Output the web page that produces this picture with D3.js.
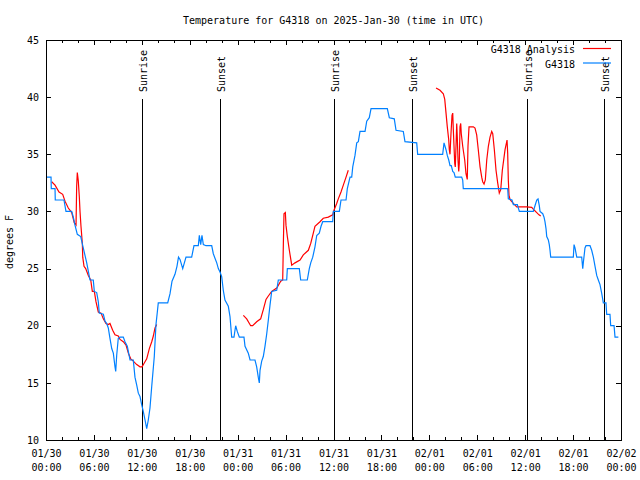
<!DOCTYPE html>
<html><head><meta charset="utf-8">
<script src="https://cdn.jsdelivr.net/npm/d3@7"></script>
<style>
body{margin:0;background:#fff}
svg{display:block}
text{font-family:"DejaVu Sans Mono",monospace;font-size:10px;fill:#000}
</style>
</head><body><svg id="c" width="640" height="480"></svg>
<script>
const chartTitle = "Temperature for G4318 on 2025-Jan-30 (time in UTC)";
const yLabel = "degrees F";
const seriesNames = ["G4318 Analysis", "G4318"];
const seriesColors = ["#ff0000", "#0080ff"];
const startUTC = Date.UTC(2025, 0, 30, 0, 0);
const endUTC = Date.UTC(2025, 1, 2, 0, 0);

// Observations (hours since 2025-01-30 00:00 UTC, deg F)
const obsHours = [
 0,0.63,0.66,1.13,1.16,2.25,2.50,3.22,3.42,3.63,
 3.92,4.35,4.60,5.10,5.51,5.92,6.05,6.35,6.55,6.67,
 7.18,7.39,7.60,7.80,8.01,8.23,8.43,8.64,8.73,8.85,
 9.05,9.27,9.68,9.89,10.18,10.52,10.93,11.14,11.36,11.56,
 11.77,11.98,12.18,12.40,12.61,12.81,13.02,13.24,13.56,13.77,
 13.94,14.06,15.24,15.53,15.78,16.15,16.40,16.59,16.78,17.12,
 17.53,18.24,18.53,19.07,19.20,19.37,19.53,19.70,20.04,20.75,
 20.95,21.16,21.38,21.58,21.79,22.00,22.20,22.41,22.83,23.04,
 23.25,23.54,23.75,23.95,24.21,24.79,24.92,25.33,25.55,26.17,
 26.38,26.58,26.71,26.80,27.01,27.21,27.42,27.64,27.84,28.05,
 28.26,28.89,29.09,30.14,30.22,31.72,31.89,32.72,32.97,33.15,
 33.40,33.68,33.90,34.22,34.44,34.65,35.90,35.98,36.73,36.94,
 37.57,37.73,38.07,38.28,38.41,38.69,38.91,39.11,39.32,39.95,
 40.16,40.48,40.70,42.74,42.99,43.61,43.83,44.74,44.95,46.42,
 46.54,49.67,49.84,50.09,50.25,50.43,50.59,50.75,50.93,51.09,
 51.25,52.05,52.18,52.25,57.81,57.89,58.35,58.52,59.02,59.27,
 61.02,61.23,61.45,61.61,61.77,61.86,62.20,62.36,62.48,62.61,
 62.70,62.90,63.02,63.11,63.20,66.03,66.12,66.24,66.46,67.08,
 67.21,67.28,67.49,67.62,68.12,68.33,68.54,68.75,68.96,69.16,
 69.37,69.59,69.79,70.12,70.21,70.62,70.71,71.13,71.25,71.67
];
const obsTemps = [
 33,33,32,32,31,31,30,30,29.5,28.8,
 28,27.8,27,25.5,24,24,23,22.9,22.1,21.1,
 21,20.4,20.2,19.8,18.9,18,17.6,16.4,16,17.4,
 18.9,19,19,18.6,18.2,17,17,15.5,14.8,14.1,
 13.8,13.1,12.5,11.75,11,11.75,12.8,14.7,17.3,20.1,
 21.2,22,22,22.8,23.9,24.5,25.2,26,25.8,25,
 26,26,27,27,27.9,27.1,27.9,27.1,27,27,
 26.3,25.9,25.5,25,24.7,24.3,23.1,22.25,21.7,20.8,
 19,19,20,19.5,19,19,18.2,17.6,17,17,
 16.4,15.5,15,16.1,16.9,17.3,18.2,19.3,20.5,21.8,
 23,23.1,24,24,25,25,24,24,25,25.5,
 26,26.9,27.9,28.1,28.7,29.1,29.1,30,30,31,
 31,32,33,33,33.9,34.9,36,36.1,37,37,
 37.9,38.2,39,39,38.2,38.1,37.1,37,36.1,36,
 35,35,36,35.4,34.9,34.5,34,34,33.5,33.4,
 33,33,32.75,32,32,31.1,31,30.6,30.6,30,
 30,30.5,31,31.1,30.5,30,29.8,29.5,29.1,28.5,
 27.8,27.5,27.1,26.6,26,26,27.1,26.8,26,26,
 25,25.5,26.8,27,27,26.6,26,25.2,24.4,24,
 23.6,22.8,22,22,21,21,20,20,19,19
];

// Analysis (null = gap)
const anaHours = [
 0.71,1.13,1.63,2.09,2.38,2.79,3.22,3.54,3.76,3.84,
 3.92,4.04,4.17,4.26,4.38,4.55,4.60,4.76,4.97,5.30,
 5.60,5.80,6.05,6.26,6.55,6.89,7.18,7.51,7.80,8.01,
 8.35,8.64,9.05,9.27,9.68,10.02,10.31,10.61,10.93,11.36,
 11.77,12.02,12.27,12.61,12.94,13.24,13.44,13.65,13.86,
 null,
 24.71,25.13,25.63,25.88,26.38,26.88,27.21,27.55,27.84,28.26,
 28.89,29.39,29.64,29.72,29.80,29.97,30.05,30.22,30.47,30.77,
 31.18,31.81,32.22,32.85,33.15,33.47,33.68,34.31,34.72,35.35,
 35.90,36.06,36.40,36.60,36.94,37.23,37.57,37.85,
 null,
 48.84,49.34,49.75,49.93,50.09,50.25,50.43,50.50,50.59,50.71,
 50.84,50.93,51.00,51.09,51.18,51.25,51.34,51.43,51.50,51.59,
 51.68,51.75,51.84,51.93,52.00,52.18,52.43,52.59,52.75,52.84,
 52.97,53.51,53.72,53.93,54.13,54.35,54.56,54.68,54.85,55.01,
 55.19,55.39,55.60,55.81,55.94,56.14,56.35,56.56,56.76,56.94,
 57.14,57.48,57.73,57.81,57.89,57.98,58.10,58.32,58.52,58.73,
 58.94,60.19,60.82,61.15,61.45,61.73,61.95
];
const anaTemps = [
 32.6,32.3,31.7,31.5,30.9,30.3,29.9,29,28.8,32.2,
 33.4,32.7,31.3,30,28.7,27.2,26,25.2,25,24.4,
 24,23,23,22.1,21.2,21.1,20.6,20.2,20.1,20.2,
 19.6,19.2,19.1,18.8,18.6,18.3,17.6,17.1,16.9,16.6,
 16.4,16.4,16.7,17.1,18,18.6,19.1,19.8,20.1,
 null,
 20.9,20.6,20,20,20.35,20.6,21.4,22.3,22.6,23,
 23.3,23.9,24,27.1,29.8,29.9,28.8,27.8,26.6,25.3,
 25.5,25.75,26.2,26.6,27.2,28.1,28.7,29.1,29.4,29.5,
 29.7,30.1,30.7,31.1,31.7,32.3,33,33.6,
 null,
 40.8,40.6,40.3,39.8,38.6,37.4,36.25,35.4,35,36.8,
 38.4,38.6,37.2,35.7,34.2,33.9,35.7,37.7,36.5,34.5,
 33.5,34.2,37.4,37.7,36.8,35.7,34.5,33.3,32.8,35.7,
 37.4,37.4,37.3,36.7,35.4,33.9,33,32.6,32.4,32.75,
 34.5,35.7,36.5,37,36.8,35.4,33.6,32.5,31.6,31.9,
 33.6,35.4,36.25,35.1,32.75,31.4,31.05,30.85,30.7,30.55,
 30.4,30.4,30.35,30.1,29.9,29.7,29.6
];

const sunriseHours = [12.02, 36.06, 60.17];
const sunsetHours = [21.83, 45.89, 69.91];
const yTicks = [10, 15, 20, 25, 30, 35, 40, 45];

const L = 46, R = 621, T = 40, B = 440;
const svg = d3.select("#c");
const toDate = h => new Date(startUTC + h * 3600000);

const x = d3.scaleUtc().domain([new Date(startUTC), new Date(endUTC)]).range([L, R]);
const y = d3.scaleLinear().domain([10, 45]).range([B, T]);

const majorX = d3.utcHour.every(6).range(new Date(startUTC), new Date(endUTC + 1));
const minorX = d3.utcHour.every(2).range(new Date(startUTC), new Date(endUTC + 1));

// Title
svg.append("text").attr("x", (L + R) / 2).attr("y", 24).attr("text-anchor", "middle").text(chartTitle);

// Y label
svg.append("text").attr("transform", "translate(13,242) rotate(-90)").attr("text-anchor", "middle").text(yLabel);

// Axes
const gx = svg.append("g").attr("transform", `translate(0,${B})`)
  .call(d3.axisBottom(x).tickValues(majorX).tickSize(-5).tickPadding(0).tickFormat(""));
gx.select(".domain").remove();
gx.selectAll(".tick").each(function(d) {
  const t = d3.select(this).append("text").attr("text-anchor", "middle").attr("fill", "#000");
  t.append("tspan").attr("x", 0).attr("y", 17).text(d3.utcFormat("%m/%d")(d));
  t.append("tspan").attr("x", 0).attr("y", 31).text(d3.utcFormat("%H:%M")(d));
});
const gxm = svg.append("g").attr("transform", `translate(0,${B})`)
  .call(d3.axisBottom(x).tickValues(minorX).tickSize(-3).tickFormat(""));
gxm.select(".domain").remove();
const gxt = svg.append("g").attr("transform", `translate(0,${T})`)
  .call(d3.axisTop(x).tickValues(majorX).tickSize(-5).tickFormat(""));
gxt.select(".domain").remove();
const gxtm = svg.append("g").attr("transform", `translate(0,${T})`)
  .call(d3.axisTop(x).tickValues(minorX).tickSize(-3).tickFormat(""));
gxtm.select(".domain").remove();

const gy = svg.append("g").attr("transform", `translate(${L},0)`)
  .call(d3.axisLeft(y).tickValues(yTicks).tickSize(-5).tickPadding(7));
gy.select(".domain").remove();
const gyr = svg.append("g").attr("transform", `translate(${R},0)`)
  .call(d3.axisRight(y).tickValues(yTicks).tickSize(-5).tickFormat(""));
gyr.select(".domain").remove();
svg.selectAll(".tick line").attr("stroke", "#000").attr("shape-rendering", "crispEdges");
svg.selectAll("g").attr("font-family", null).attr("font-size", null);

// Sunrise / sunset lines
const sunEvents = sunriseHours.map(h => ({h, label: "Sunrise"}))
  .concat(sunsetHours.map(h => ({h, label: "Sunset"})));
sunEvents.forEach(e => {
  const px = Math.round(x(toDate(e.h))) + 0.5;
  svg.append("line").attr("x1", px).attr("x2", px).attr("y1", 99).attr("y2", B)
    .attr("stroke", "#000").attr("stroke-width", 1).attr("shape-rendering", "crispEdges");
  svg.append("text").attr("transform", `translate(${px + 4},92) rotate(-90)`)
    .attr("text-anchor", "start").text(e.label);
});

// Data lines
const line = d3.line()
  .defined(d => d.t != null)
  .x(d => x(toDate(d.h)))
  .y(d => y(d.t));
const anaData = anaHours.map((h, i) => ({h, t: anaTemps[i]}));
const obsData = obsHours.map((h, i) => ({h, t: obsTemps[i]}));
svg.append("path").datum(anaData).attr("d", line)
  .attr("fill", "none").attr("stroke", seriesColors[0]).attr("stroke-width", 1.2);
svg.append("path").datum(obsData).attr("d", line)
  .attr("fill", "none").attr("stroke", seriesColors[1]).attr("stroke-width", 1.2);

// Border
svg.append("rect").attr("x", L + 0.5).attr("y", T + 0.5).attr("width", R - L).attr("height", B - T)
  .attr("fill", "none").attr("stroke", "#000").attr("stroke-width", 1).attr("shape-rendering", "crispEdges");

// Legend
seriesNames.forEach((name, i) => {
  const ly = 48 + i * 14.5;
  svg.append("text").attr("x", 575).attr("y", ly + 5).attr("text-anchor", "end").text(name);
  svg.append("line").attr("x1", 583).attr("x2", 611).attr("y1", ly + 0.5).attr("y2", ly + 0.5)
    .attr("stroke", seriesColors[i]).attr("stroke-width", 1.2);
});
</script>
</body></html>
